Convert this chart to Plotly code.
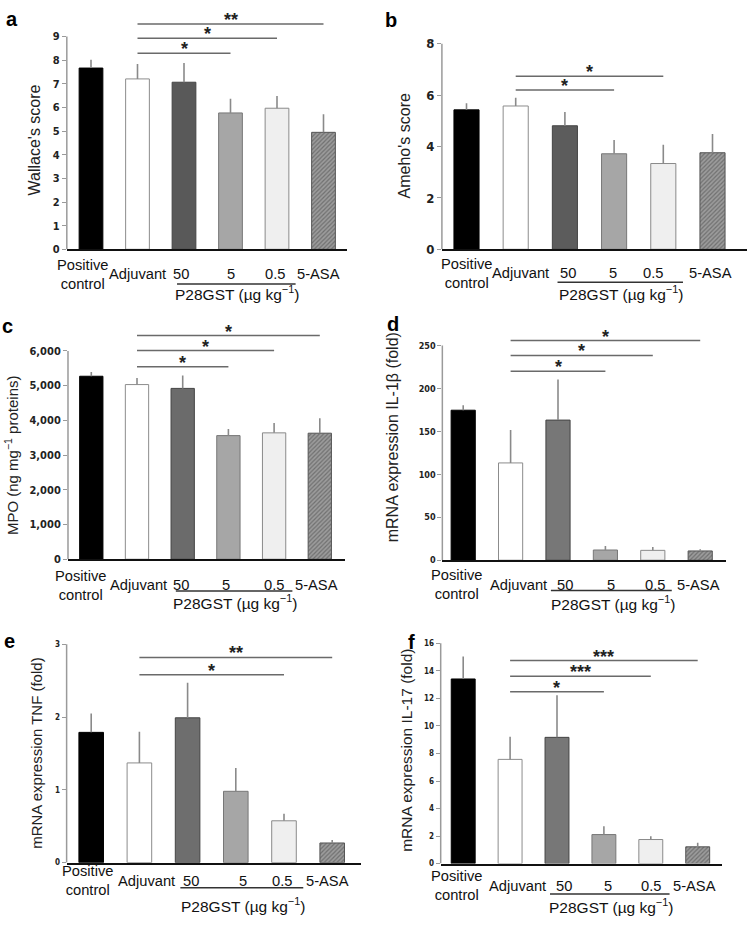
import plotly.graph_objects as go

W, H = 748, 928

# ---------------- data ----------------
categories = ["Positive<br>control", "Adjuvant", "50", "5", "0.5", "5-ASA"]
dose_label = "P28GST (µg kg<sup>−1</sup>)"

wallace = [7.67, 7.21, 7.07, 5.77, 5.97, 4.95]
wallace_err = [0.35, 0.63, 0.81, 0.60, 0.52, 0.77]

ameho = [5.43, 5.58, 4.81, 3.72, 3.34, 3.76]
ameho_err = [0.26, 0.32, 0.54, 0.54, 0.73, 0.73]

mpo = [5270, 5030, 4920, 3560, 3640, 3630]
mpo_err = [120, 190, 370, 190, 280, 430]

il1b = [174.7, 113.3, 163.2, 11.9, 11.5, 10.8]
il1b_err = [5.8, 38.4, 47.2, 4.6, 3.9, 1.9]

tnf = [1.79, 1.37, 1.99, 0.98, 0.575, 0.27]
tnf_err = [0.26, 0.43, 0.48, 0.32, 0.095, 0.04]

il17 = [13.41, 7.57, 9.17, 2.11, 1.75, 1.22]
il17_err = [1.63, 1.65, 3.05, 0.60, 0.24, 0.29]

# significance comparisons: (from group, to group, bracket level, label)
sig_a = [(1, 3, 8.3, "*"), (1, 4, 8.93, "*"), (1, 5, 9.53, "**")]
sig_b = [(1, 3, 6.2, "*"), (1, 4, 6.74, "*")]
sig_c = [(1, 3, 5540, "*"), (1, 4, 6010, "*"), (1, 5, 6440, "*")]
sig_d = [(1, 3, 220, "*"), (1, 4, 238.5, "*"), (1, 5, 255.8, "*")]
sig_e = [(1, 4, 2.58, "*"), (1, 5, 2.82, "**")]
sig_f = [(1, 3, 12.48, "*"), (1, 4, 13.6, "***"), (1, 5, 14.75, "***")]

y_titles = ["Wallace's score", "Ameho's score", "MPO (ng mg<sup>−1</sup> proteins)",
            "mRNA expression IL-1β (fold)", "mRNA expression TNF (fold)",
            "mRNA expression IL-17 (fold)"]
y_ticks = [list(range(0, 10)), [0, 2, 4, 6, 8], list(range(0, 7000, 1000)),
           list(range(0, 300, 50)), [0, 1, 2, 3], list(range(0, 18, 2))]

# ---------------- layout geometry (pixels) ----------------
panels = [
    dict(letter="a", vals=wallace, errs=wallace_err, sig=sig_a, c0=91, s=46.5, xmin=-0.52, xmax=5.5,
         y0=250, ppu=215 / 9, ymax=10, dark="#595959", tfs=11, title_xy=(34, 140), title_fs=16,
         letter_xy=(12, 17), lab_dx=[-9, 0, -3, 0, -2, -5], lab_off=25, line_off=35, dose_off=44),
    dict(letter="b", vals=ameho, errs=ameho_err, sig=sig_b, c0=466.5, s=49.2, xmin=-0.5, xmax=5.7,
         y0=250, ppu=207.7 / 8, ymax=8.2, dark="#5c5c5c", tfs=13, title_xy=(404, 146), title_fs=16,
         letter_xy=(391, 18), lab_dx=[0, 5, 3, -1, -10, -2], lab_off=24.3, line_off=33.3, dose_off=44.3),
    dict(letter="c", vals=mpo, errs=mpo_err, sig=sig_c, c0=91.3, s=45.7, xmin=-0.51, xmax=5.55,
         y0=563.3, ppu=210.6 / 6000, ymax=7000, dark="#6b6b6b", tfs=11, title_xy=(11, 458), title_fs=15,
         letter_xy=(8, 328), lab_dx=[-11, 1, -2, -2, 0, -3], lab_off=26.5, line_off=32, dose_off=43),
    dict(letter="d", vals=il1b, errs=il1b_err, sig=sig_d, c0=463.2, s=47.4, xmin=-0.44, xmax=5.55,
         y0=564.3, ppu=217 / 250, ymax=270, dark="#777777", tfs=9, title_xy=(392, 440), title_fs=16,
         letter_xy=(393, 326), lab_dx=[-7, 8, 7, 6, 2, -2], lab_off=24.7, line_off=30.7, dose_off=43),
    dict(letter="e", vals=tnf, errs=tnf_err, sig=sig_e, c0=91.2, s=48.2, xmin=-0.51, xmax=5.6,
         y0=870, ppu=220.7 / 3, ymax=3.05, dark="#6e6e6e", tfs=8, title_xy=(37, 760), title_fs=15,
         letter_xy=(9, 646), lab_dx=[-4, 7, 3, 7, -2, -5], lab_off=18.5, line_off=25.5, dose_off=43),
    dict(letter="f", vals=il17, errs=il17_err, sig=sig_f, c0=463.2, s=46.9, xmin=-0.48, xmax=5.52,
         y0=871, ppu=222.7 / 16, ymax=16.3, dark="#777777", tfs=8, title_xy=(407, 756), title_fs=15.5,
         letter_xy=(411, 647), lab_dx=[-7, 7, 7, 4, 0, -3], lab_off=22.3, line_off=30.7, dose_off=43),
]

SANS = "Liberation Sans, Arial, sans-serif"
TICKNUM = "Liberation Sans Narrow, DejaVu Sans Condensed, Liberation Sans, sans-serif"

fig = go.Figure()
shapes, annotations = [], []
layout_axes = {}

for i, p in enumerate(panels, start=1):
    sfx = "" if i == 1 else str(i)
    xa, ya = "x" + sfx, "y" + sfx
    left = p["c0"] + p["xmin"] * p["s"]
    right = p["c0"] + p["xmax"] * p["s"]
    top = p["y0"] - p["ymax"] * p["ppu"]
    h_px = p["y0"] - top

    fills = ["#000000", "#ffffff", p["dark"], "#a6a6a6", "#efefef", "#9c9c9c"]
    outlines = ["#000000", "#8c8c8c", "#444444", "#777777", "#8a8a8a", "#555555"]
    shapes_pat = ["", "", "", "", "", "/"]

    fig.add_trace(go.Bar(
        x=list(range(len(categories))), y=p["vals"], width=0.51,
        marker=dict(color=fills, line=dict(color=outlines, width=1),
                    pattern=dict(shape=shapes_pat, fillmode="overlay", fgcolor="#3a3a3a",
                                 size=3, solidity=0.4)),
        error_y=dict(type="data", symmetric=False, array=p["errs"], arrayminus=[0] * 6,
                     color="#8a8a8a", thickness=1.6, width=0),
        xaxis=xa, yaxis=ya, showlegend=False, hoverinfo="skip"))

    layout_axes["xaxis" + sfx] = dict(
        domain=[left / W, right / W], range=[p["xmin"], p["xmax"]], anchor=ya,
        showticklabels=False, ticks="",
        showline=True, linecolor="#111", linewidth=2, showgrid=False, zeroline=False)
    tv = y_ticks[i - 1]
    layout_axes["yaxis" + sfx] = dict(
        domain=[1 - p["y0"] / H, 1 - top / H], range=[0, p["ymax"]], anchor=xa,
        tickvals=tv, tickformat=",d" if max(tv) >= 1000 else None,
        tickfont=dict(family=TICKNUM, size=p["tfs"], color="#222", weight="bold"),
        ticks="outside", ticklen=4, tickcolor="#9a9a9a", tickwidth=1.3,
        showline=False, showgrid=False, zeroline=False)

    # category labels placed on the category axis
    for k, cat in enumerate(categories):
        annotations.append(dict(x=k, y=-p["lab_off"] / h_px, xref=xa, yref=ya + " domain", text=cat,
                                showarrow=False, xanchor="center", yanchor="middle",
                                xshift=p["lab_dx"][k],
                                font=dict(family=SANS, size=14.7, color="#111")))

    # y axis line ending at the top tick
    shapes.append(dict(type="line", xref=xa + " domain", yref=ya, x0=0, x1=0, y0=0, y1=max(tv),
                       line=dict(color="#9a9a9a", width=1.5)))
    # significance brackets
    for (g0, g1, lvl, lab) in p["sig"]:
        shapes.append(dict(type="line", xref=xa, yref=ya, x0=g0, x1=g1, y0=lvl, y1=lvl,
                           line=dict(color="#6a6a6a", width=1.5)))
        annotations.append(dict(x=(g0 + g1) / 2, y=lvl, xref=xa, yref=ya, text=lab, showarrow=False,
                                yanchor="bottom", yshift=-8,
                                font=dict(family=SANS, size=18, color="#222", weight="bold")))
    # dose group underline and label
    shapes.append(dict(type="line", xref=xa, yref=ya + " domain", x0=1.85, x1=4.4,
                       y0=-p["line_off"] / h_px, y1=-p["line_off"] / h_px,
                       line=dict(color="#333", width=1.5)))
    annotations.append(dict(x=3.15, y=-p["dose_off"] / h_px, xref=xa, yref=ya + " domain",
                            text=dose_label, showarrow=False, yanchor="middle",
                            font=dict(family=SANS, size=15.5, color="#111")))
    # y title
    tx, ty = p["title_xy"]
    annotations.append(dict(x=tx / W, y=1 - ty / H, xref="paper", yref="paper", text=y_titles[i - 1],
                            textangle=-90, showarrow=False, xanchor="center", yanchor="middle",
                            font=dict(family=SANS, size=p["title_fs"], color="#222")))
    # panel letter
    lx, ly = p["letter_xy"]
    annotations.append(dict(x=lx / W, y=1 - ly / H, xref="paper", yref="paper", text=p["letter"],
                            showarrow=False, xanchor="center", yanchor="middle",
                            font=dict(family=SANS, size=20, color="#000", weight="bold")))

fig.update_layout(
    width=W, height=H, autosize=False,
    margin=dict(l=0, r=0, t=0, b=0),
    paper_bgcolor="white", plot_bgcolor="white",
    shapes=shapes, annotations=annotations, bargap=0.4,
    **layout_axes)

html = fig.to_html(config={"displayModeBar": False, "responsive": False}, full_html=True)
html = html.replace("<head>", "<head><style>html,body{margin:0;padding:0;overflow:hidden;}</style>", 1)
with open("out.html", "w", encoding="utf-8") as fh:
    fh.write(html)
